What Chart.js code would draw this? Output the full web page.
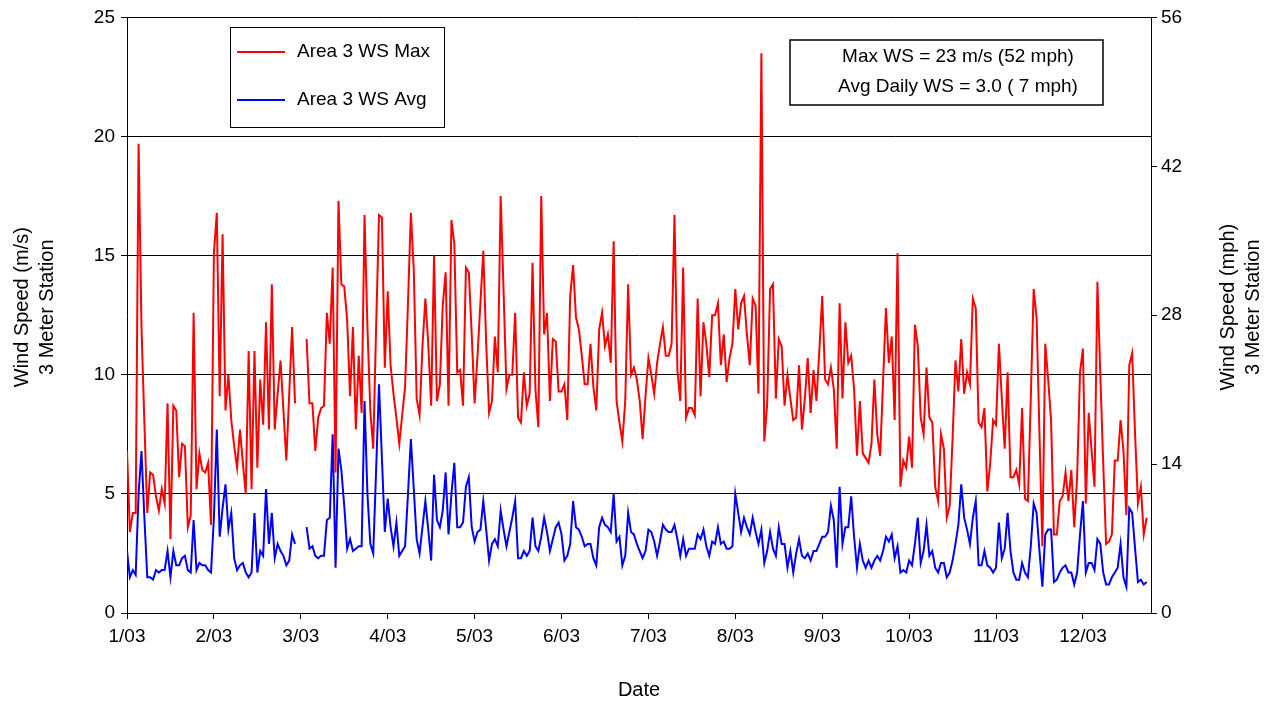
<!DOCTYPE html>
<html>
<head>
<meta charset="utf-8">
<title>Area 3 Wind Speed</title>
<script src="https://cdn.jsdelivr.net/npm/chart.js@4.4.1/dist/chart.umd.min.js"></script>
<style>
html,body{margin:0;padding:0;background:#fff;}
#wrap{width:1272px;height:704px;}
</style>
</head>
<body>
<div id="wrap"><canvas id="myChart" width="1272" height="704"></canvas></div>
<script>
// daily values, one per point on the category axis (gap = missing days)
const wsMax = [
  6.8, 3.4, 4.2, 4.2, 19.7, 12, 8, 4.2, 5.9, 5.8,
  4.9, 4.3, 5.2, 4.6, 8.8, 3.1, 8.7, 8.5, 5.7, 7.1,
  7.0, 3.6, 4.1, 12.6, 5.2, 6.7, 6.0, 5.9, 6.3, 3.7,
  15.1, 16.8, 9.1, 15.9, 8.5, 10.0, 8.1, 7.0, 6.1, 7.7,
  6.3, 5.0, 11.0, 5.2,
  11.0, 6.1, 9.8, 7.9, 12.2, 7.7, 13.8, 7.7, 9.2, 10.6, 8.5, 6.4, 9.2, 12.0, 8.8,
  null, null, null,
  11.5, 8.8, 8.8, 6.8, 8.2, 8.6, 8.7, 12.6, 11.3, 14.5, 5.9, 17.3, 13.8, 13.7, 12.3, 9.1,
  12.0, 7.7, 10.8, 8.4, 16.7, 12.0, 8.5, 6.9, 12.0, 16.7, 16.6, 10.3,
  13.5, 10.4, 9.2, 8.2, 7.1, 8.3, 9.5, 13.0, 16.8, 14.4, 9.0, 8.3, 11.2, 13.2, 11.3,
  8.7, 15.0, 8.9, 9.6, 12.9, 14.3, 8.7, 16.5, 15.5, 10.1, 10.2, 8.7, 14.5, 14.3, 11.7,
  8.8, 10.8, 13.0, 15.2, 11.3, 8.4, 8.9, 11.6, 10.1, 17.5, 13.5, 9.4, 10.0, 10.0, 12.6,
  8.2, 8.0, 10.1, 8.7, 9.2, 14.7, 9.4, 7.8, 17.5, 11.7, 12.6, 8.9, 11.5, 11.4, 9.3,
  9.3, 9.6, 8.1, 13.3, 14.6, 12.4, 11.9, 10.8, 9.6, 9.6, 11.3, 9.5, 8.5, 11.9, 12.6,
  11.2, 11.7, 10.5, 15.6, 8.9, 8.0, 7.2, 8.9, 13.8, 10.0, 10.3, 9.8, 8.9, 7.3, 9.1,
  10.7, 10.0, 9.2, 10.5, 11.3, 12.0, 10.8, 10.8, 11.3, 16.7, 10.2, 8.9, 14.5, 8.2, 8.6,
  8.6, 8.3, 13.2, 9.1, 12.2, 11.3, 9.9, 12.5, 12.5, 13.0, 10.4, 11.7, 9.7, 10.7, 11.3,
  13.6, 11.9, 13.0, 13.3, 11.7, 10.4, 13.2, 12.9, 9.2, 23.5, 7.2, 8.8, 13.6, 13.8,
  9.0, 11.5, 11.2, 8.7, 10.0, 9.0, 8.1, 8.2, 10.4, 7.7, 9.0, 10.7, 8.4, 10.2, 8.9,
  11.0, 13.3, 9.8, 9.6, 10.3, 9.4, 6.9, 13.0, 9.0, 12.2, 10.5, 10.8, 9.4, 6.6, 8.9,
  6.7, 6.5, 6.3, 7.1, 9.8, 7.5, 6.6, 9.7, 12.8, 10.5, 11.6, 8.1, 15.1,
  5.3, 6.4, 6.1, 7.4, 6.1, 12.1, 11.2, 8.2, 7.5, 10.3, 8.2, 8.0, 5.3, 4.7, 7.5,
  6.9, 4.0, 4.5, 7.3, 10.6, 9.3, 11.5, 9.2, 10.1, 9.6, 13.2, 12.8, 8.0, 7.8, 8.6,
  5.1, 6.3, 8.1, 7.9, 11.3, 9.0, 6.9, 10.1, 5.7, 5.7, 6.0, 5.4, 8.6, 4.8, 4.7,
  9.0, 13.6,
  12.4, 7.5, 2.8, 11.3, 9.8, 8.1, 3.3, 3.3, 4.7, 4.9, 5.9, 4.7, 6.0, 3.6, 5.7,
  10.1, 11.1, 4.6, 8.4, 6.8, 5.3, 13.9, 10.0, 6.3, 2.9, 3.0, 3.3, 6.4, 6.4, 8.1,
  6.8, 4.1, 10.4, 10.9, 7.5, 4.6, 5.3, 3.3, 4.0
];
const wsAvg = [
  2.6, 1.5, 1.8, 1.6, 5.0, 6.8, 4.0, 1.5, 1.5, 1.4,
  1.8, 1.7, 1.8, 1.8, 2.6, 1.5, 2.6, 2.0, 2.0, 2.3,
  2.4, 1.8, 1.7, 3.9, 1.8, 2.1, 2.0, 2.0, 1.8, 1.7,
  4.0, 7.7, 3.2, 4.4, 5.4, 3.5, 4.2, 2.3, 1.8, 2.0,
  2.1, 1.7, 1.5, 1.7,
  4.2, 1.7, 2.6, 2.4, 5.2, 2.9, 4.2, 2.3, 2.9, 2.6, 2.4, 2.0, 2.2, 3.3, 2.9,
  null, null, null,
  3.6, 2.7, 2.8, 2.4, 2.3, 2.4, 2.4, 3.9, 4.0, 7.5, 1.9, 6.9, 6.0, 4.5, 2.7, 3.1,
  2.6, 2.7, 2.8, 2.8, 8.9, 5.0, 2.9, 2.5, 6.0, 9.6, 6.5, 3.4,
  4.8, 3.6, 2.8, 3.8, 2.4, 2.6, 2.8, 5.0, 7.3, 5.2, 3.1, 2.5, 3.6, 4.7, 3.5,
  2.2, 5.8, 3.9, 3.6, 4.3, 5.9, 3.3, 5.0, 6.3, 3.6, 3.6, 3.8, 5.3, 5.7, 3.6,
  3.0, 3.4, 3.5, 4.7, 3.5, 2.2, 2.9, 3.1, 2.8, 4.3, 3.5, 2.8, 3.4, 4.0, 4.7,
  2.3, 2.3, 2.6, 2.4, 2.6, 4.0, 2.8, 2.6, 3.2, 4.0, 3.4, 2.6, 3.1, 3.6, 3.8,
  3.3, 2.2, 2.4, 2.9, 4.7, 3.6, 3.5, 3.2, 2.8, 2.9, 2.9, 2.3, 2.0, 3.6, 4.0,
  3.7, 3.6, 3.4, 5.0, 3.0, 3.2, 2.0, 2.4, 4.2, 3.4, 3.3, 2.9, 2.6, 2.3, 2.6,
  3.5, 3.4, 3.0, 2.4, 3.0, 3.7, 3.5, 3.4, 3.4, 3.7, 3.1, 2.4, 3.1, 2.4, 2.7,
  2.7, 2.7, 3.3, 3.1, 3.5, 2.8, 2.4, 3.0, 2.9, 3.6, 2.9, 3.0, 2.7, 2.7, 2.8,
  5.0, 4.2, 3.4, 4.0, 3.6, 3.3, 4.0, 3.4, 2.9, 3.5, 2.1, 2.6, 3.4, 2.7,
  2.4, 3.6, 2.9, 2.9, 1.9, 2.6, 1.7, 2.5, 3.1, 2.4, 2.3, 2.5, 2.2, 2.6, 2.6,
  2.9, 3.2, 3.2, 3.4, 4.5, 3.9, 1.9, 5.3, 2.9, 3.6, 3.6, 4.9, 3.2, 1.9, 2.9,
  2.2, 1.9, 2.2, 1.9, 2.2, 2.4, 2.2, 2.6, 3.2, 3.0, 3.3, 2.3, 2.8,
  1.7, 1.8, 1.7, 2.2, 2.0, 2.9, 4.0, 2.1, 2.6, 3.7, 2.4, 2.6, 1.9, 1.7, 2.1,
  2.1, 1.5, 1.7, 2.2, 2.9, 3.7, 5.4, 4.0, 3.5, 2.9, 4.0, 4.7, 2.0, 2.0, 2.6,
  2.0, 1.9, 1.7, 1.9, 3.8, 2.3, 2.7, 4.2, 2.6, 1.7, 1.4, 1.4, 2.1, 1.7, 1.5,
  2.8, 4.6,
  4.2, 2.6, 1.1, 3.3, 3.5, 3.5, 1.3, 1.4, 1.7, 1.9, 2.0, 1.7, 1.7, 1.2, 1.7,
  3.3, 4.7, 1.7, 2.1, 2.1, 1.8, 3.1, 2.9, 1.7, 1.2, 1.2, 1.5, 1.7, 1.9, 2.9,
  1.5, 1.1, 4.4, 4.2, 2.7, 1.3, 1.4, 1.2, 1.3
];
const monthLabels = ['1/03','2/03','3/03','4/03','5/03','6/03','7/03','8/03','9/03','10/03','11/03','12/03'];
const pointsPerTick = 30;
const lastCategory = 353.5;
const leftTicks = [0, 5, 10, 15, 20, 25];
const rightTicks = [0, 14, 28, 42, 56];
const leftTitle = ['Wind Speed (m/s)', '3 Meter Station'];
const rightTitle = ['Wind Speed (mph)', '3 Meter Station'];
const xTitle = 'Date';
const noteLines = ['Max WS = 23 m/s (52 mph)', 'Avg Daily WS = 3.0 ( 7 mph)'];

const FONT = 'Arial, "Liberation Sans", sans-serif';
Chart.defaults.font.family = FONT;
Chart.defaults.color = '#000';

function toPoints(arr) {
  return arr.map((v, i) => ({x: i, y: v}));
}

// axis titles, drawn rotated like Excel does on both sides
const axisTitles = {
  id: 'axisTitles',
  afterDraw(chart) {
    const ctx = chart.ctx;
    const a = chart.chartArea;
    const cy = (a.top + a.bottom) / 2 - 8;
    ctx.save();
    ctx.fillStyle = '#000';
    ctx.font = '20px ' + FONT;
    ctx.textAlign = 'center';
    ctx.textBaseline = 'middle';
    const drawV = (x, text) => {
      ctx.save();
      ctx.translate(x, cy);
      ctx.rotate(-Math.PI / 2);
      ctx.fillText(text, 0, 0);
      ctx.restore();
    };
    drawV(22, leftTitle[0]);
    drawV(47, leftTitle[1]);
    drawV(1228, rightTitle[0]);
    drawV(1253, rightTitle[1]);
    ctx.fillText(xTitle, (a.left + a.right) / 2, 690);
    ctx.restore();
  }
};

const legendBox = {
  id: 'legendBox',
  afterDraw(chart) {
    const ctx = chart.ctx;
    ctx.save();
    ctx.fillStyle = '#fff';
    ctx.fillRect(230, 27, 214, 100);
    ctx.strokeStyle = '#000';
    ctx.lineWidth = 1;
    ctx.strokeRect(230.5, 27.5, 214, 100);
    ctx.font = '19px ' + FONT;
    ctx.textBaseline = 'middle';
    ctx.textAlign = 'left';
    chart.data.datasets.forEach((ds, k) => {
      const y = 52 + k * 48;
      ctx.strokeStyle = ds.borderColor;
      ctx.lineWidth = 2;
      ctx.beginPath();
      ctx.moveTo(237, y);
      ctx.lineTo(285, y);
      ctx.stroke();
      ctx.fillStyle = '#000';
      ctx.fillText(ds.label, 297, y);
    });
    ctx.restore();
  }
};

const noteBox = {
  id: 'noteBox',
  afterDraw(chart) {
    const ctx = chart.ctx;
    ctx.save();
    ctx.fillStyle = '#fff';
    ctx.fillRect(790, 40, 313, 65);
    ctx.strokeStyle = '#000';
    ctx.lineWidth = 1.5;
    ctx.strokeRect(790, 40, 313, 65);
    ctx.fillStyle = '#000';
    ctx.font = '19px ' + FONT;
    ctx.textAlign = 'center';
    ctx.textBaseline = 'middle';
    noteLines.forEach((t, k) => ctx.fillText(t, 958, 57 + k * 30));
    ctx.restore();
  }
};

const ctx = document.getElementById('myChart').getContext('2d');
const myChart = new Chart(ctx, {
  type: 'line',
  data: {
    datasets: [
      {
        label: 'Area 3 WS Max',
        data: toPoints(wsMax),
        borderColor: '#ff0000',
        borderWidth: 2,
        pointRadius: 0,
        tension: 0,
        spanGaps: false,
        yAxisID: 'y'
      },
      {
        label: 'Area 3 WS Avg',
        data: toPoints(wsAvg),
        borderColor: '#0000ff',
        borderWidth: 2,
        pointRadius: 0,
        tension: 0,
        spanGaps: false,
        yAxisID: 'y'
      }
    ]
  },
  options: {
    responsive: false,
    animation: false,
    devicePixelRatio: 1,
    layout: {padding: {top: 17, left: 0, right: 0, bottom: 0}},
    plugins: {legend: {display: false}, tooltip: {enabled: false}},
    scales: {
      x: {
        type: 'linear',
        min: 0,
        max: lastCategory,
        afterFit(s) { s.height = 91; },
        afterBuildTicks(s) {
          s.ticks = monthLabels.map((m, k) => ({value: k * pointsPerTick}));
        },
        ticks: {
          autoSkip: false,
          maxRotation: 0,
          padding: 6,
          font: {size: 19},
          callback: (v) => monthLabels[Math.round(v / pointsPerTick)]
        },
        grid: {drawOnChartArea: false, drawTicks: true, tickLength: 6, color: '#000'},
        border: {color: '#000', width: 1}
      },
      y: {
        position: 'left',
        min: 0,
        max: 25,
        afterFit(s) { s.width = 127; },
        afterBuildTicks(s) { s.ticks = leftTicks.map(v => ({value: v})); },
        ticks: {padding: 6, font: {size: 19}},
        grid: {color: '#000', lineWidth: 1, tickLength: 6},
        border: {color: '#000', width: 1}
      },
      y2: {
        position: 'right',
        min: 0,
        max: 56,
        afterFit(s) { s.width = 121; },
        afterBuildTicks(s) { s.ticks = rightTicks.map(v => ({value: v})); },
        ticks: {padding: 4, font: {size: 19}},
        grid: {drawOnChartArea: false, color: '#000', tickLength: 6},
        border: {color: '#000', width: 1}
      }
    }
  },
  plugins: [axisTitles, legendBox, noteBox]
});
</script>
</body>
</html>
